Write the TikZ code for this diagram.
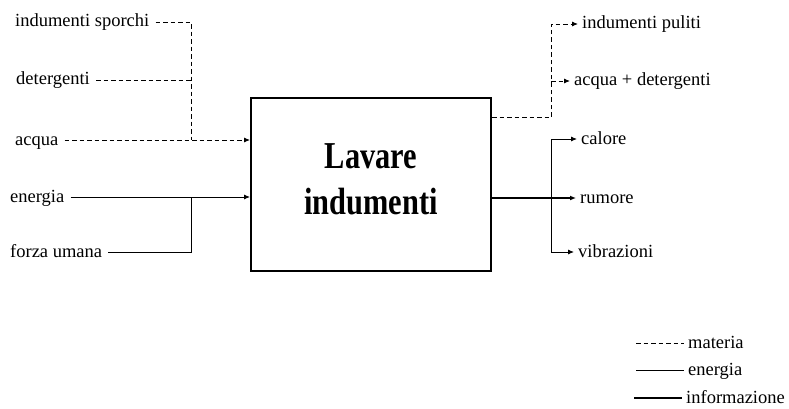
\documentclass[tikz,border=0pt]{standalone}
\usepackage{fontspec}
\setmainfont{Liberation Serif}
\newfontfamily\titlefont[FakeStretch=0.8]{Liberation Serif}
\usetikzlibrary{arrows.meta}
\begin{document}
\begin{tikzpicture}[x=1pt,y=-1pt,
  lab/.style={font=\fontsize{18.5}{21}\selectfont, text height=13pt, text depth=3pt, inner ysep=0pt},
  llab/.style={lab, anchor=west, inner xsep=6pt},
  rlab/.style={lab, anchor=west, inner xsep=4pt},
  mat/.style={line width=0.9pt, dash pattern=on 4.5pt off 3pt},
  en/.style={line width=0.9pt},
  info/.style={line width=1.5pt},
  arr/.style={-{Latex[length=6pt,width=5pt]}},
  proc/.style={draw, line width=2pt, minimum width=240pt, minimum height=173pt, inner sep=0pt},
  ttl/.style={align=center, inner sep=0pt, font=\titlefont\bfseries\fontsize{38}{46}\selectfont}
]
\useasboundingbox (0,0) rectangle (789,409);

% process box
\node[proc] (box) at (371,184.5) {};
\node[ttl] (title) at (371,179) {Lavare\\indumenti};

% input labels
\node[llab] (sporchi) at (9,22) {indumenti sporchi};
\node[llab] (deterg) at (10,80) {detergenti};
\node[llab] (acqua) at (9,140) {acqua};
\node[llab] (energia) at (4,197) {energia};
\node[llab] (forza) at (4,252) {forza umana};

\coordinate (jIn) at (191,140);
\coordinate (jEn) at (191,197);

\draw[mat] (sporchi.east) -- (jIn |- sporchi.east) -- (jIn);
\draw[mat] (deterg.east) -- (jIn |- deterg.east);
\draw[mat,arr] (acqua.east) -- (box.west |- acqua.east);
\draw[en,arr] (energia.east) -- (box.west |- energia.east);
\draw[en] (forza.east) -- (jEn |- forza.east) -- (jEn);

% output labels
\node[rlab] (puliti) at (578,24) {indumenti puliti};
\node[rlab] (acqdet) at (570,81) {acqua + detergenti};
\node[rlab] (calore) at (577,139) {calore};
\node[rlab] (rumore) at (576,198) {rumore};
\node[rlab] (vibr) at (574,252) {vibrazioni};

\coordinate (jOut) at (551,117);
\coordinate (jE) at (551,198);

\draw[mat] (box.east |- jOut) -- (jOut);
\draw[mat,arr] (jOut) |- (puliti.west);
\draw[mat,arr] (jOut |- acqdet.west) -- (acqdet.west);
\draw[info,arr] (box.east |- rumore.west) -- (rumore.west);
\draw[en,arr] (jE |- vibr.west) |- (calore.west);
\draw[en,arr] (jE |- vibr.west) -- (vibr.west);

% legend
\node[rlab] (lmat) at (684,343) {materia};
\node[rlab] (len) at (684,370) {energia};
\node[rlab] (linf) at (682,398) {informazione};
\coordinate (l1) at (636,343);
\coordinate (l2) at (636,370);
\coordinate (l3) at (634,398);
\draw[mat] (l1) -- (lmat.west);
\draw[en] (l2) -- (len.west);
\draw[line width=2.4pt] (l3) -- (linf.west);
\end{tikzpicture}
\end{document}
